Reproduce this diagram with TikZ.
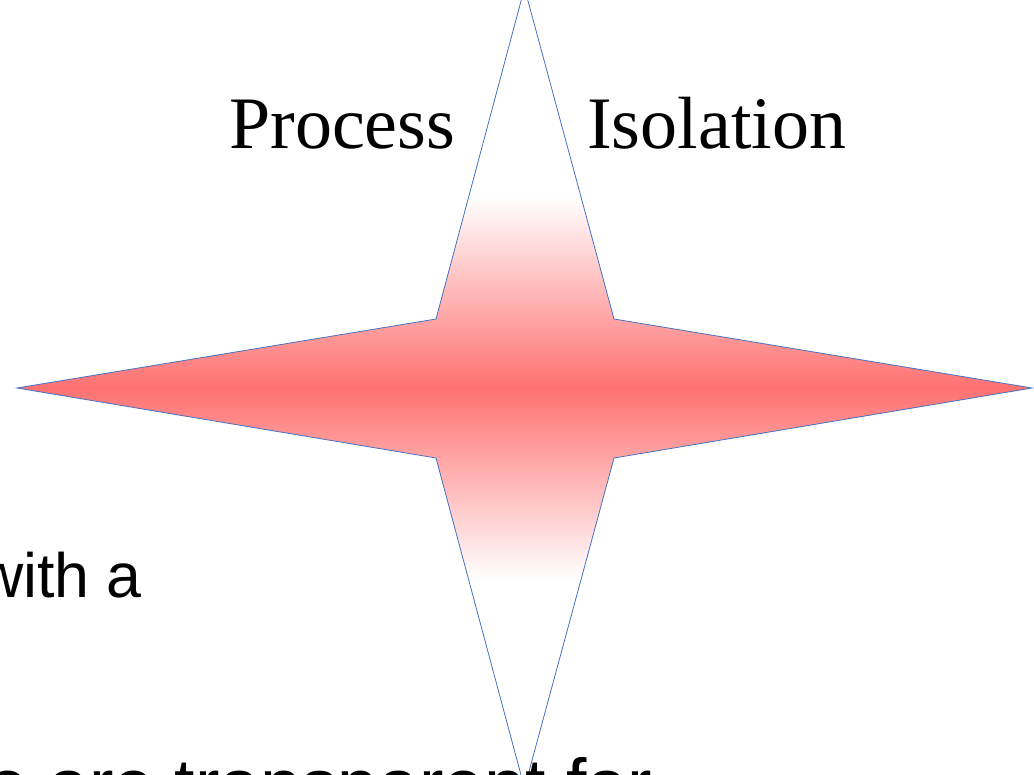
\documentclass[tikz,border=0pt]{standalone}
\usepackage{fontspec}
\setmainfont{Liberation Serif}
\newfontfamily\slidesans{Liberation Sans}
\definecolor{starred}{RGB}{255,113,113}
\definecolor{starblue}{RGB}{68,114,196}
\pgfdeclareverticalshading{starfade}{100bp}{color(0bp)=(white); color(38bp)=(white);
	color(50bp)=(starred); color(62bp)=(white); color(100bp)=(white)}
\begin{document}
\begin{tikzpicture}[x=0.75pt, y=-0.75pt,
		starline/.style={draw=starblue, line width=0.6pt, line join=miter},
		titlefont/.style={inner sep=0pt, font=\fontsize{55.5}{60}\selectfont},
		bodyfont/.style={inner sep=0pt, font=\slidesans\fontsize{47}{52}\selectfont}]
	% 1. 画布范围
	\useasboundingbox (0,0) rectangle (1034,774);
	\clip (0,0) rectangle (1034,774);
	
	% 2. 四角星 (上下渐变填充)
	\draw[starline, shading=starfade]
		(524.5,-12) -- (614,319) -- (1032,388) -- (614,458) -- (524.5,788)
		-- (436,458) -- (17,388) -- (436,319) -- cycle;
	
	% 3. 标题文字
	\node[titlefont, anchor=base west] (process) at (229,148) {Process};
	\node[titlefont, anchor=base west] (isolation) at (587,148) {Isolation};
	
	% 4. 正文片段 (被画布截断)
	\node[bodyfont, anchor=base east] (witha) at (142,597) {with a};
	\node[bodyfont, font=\slidesans\fontsize{55}{60}\selectfont, anchor=base east]
		(transp) at (652,810) {e are transparent for};
\end{tikzpicture}
\end{document}
